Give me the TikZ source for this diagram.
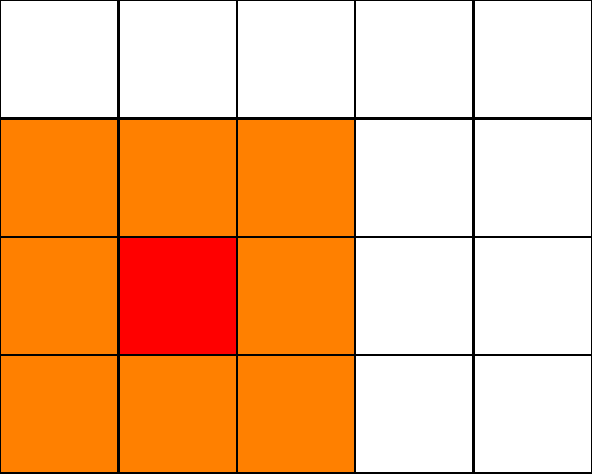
\documentclass[tikz,border=0pt]{standalone}
\definecolor{cellorange}{RGB}{255,128,0}
\begin{document}
\begin{tikzpicture}[
        x=1cm, y=1cm,
        cell/.style={rectangle, draw, line width=0.6pt, minimum size=1cm, inner sep=0pt, fill=white},
        hot_cell/.style={cell, fill=cellorange},
        centre_cell/.style={cell, fill=red}
    ]
        \useasboundingbox (0,0) rectangle (5,4);
        % Mřížka 5x4
        \foreach \col in {0,...,4} {
            \foreach \row in {0,...,3} {
                \node[cell] (c-\col-\row) at (\col+0.5, 3.5-\row) {};
            }
        }
        % Okolí (oranžové)
        \foreach \col in {0,1,2} {
            \foreach \row in {1,2,3} {
                \node[hot_cell] (h-\col-\row) at (\col+0.5, 3.5-\row) {};
            }
        }
        % Střed (červený)
        \node[centre_cell] (centre) at (c-1-2) {};
    \end{tikzpicture}
\end{document}
